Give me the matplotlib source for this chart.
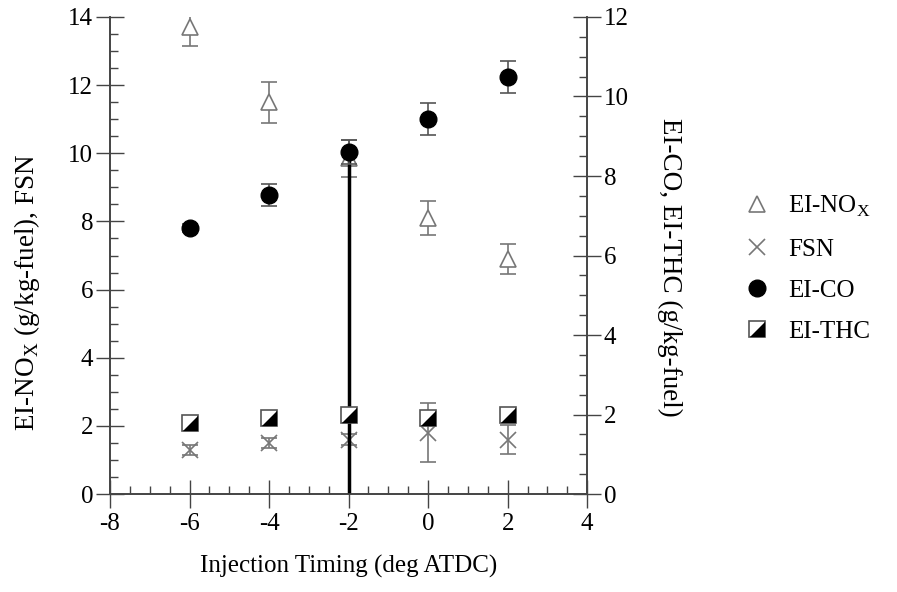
import numpy as np
import matplotlib
matplotlib.use("Agg")
import matplotlib.pyplot as plt
from matplotlib.ticker import MultipleLocator

plt.rcParams['font.family'] = ['Liberation Serif', 'DejaVu Serif']
plt.rcParams['mathtext.fontset'] = 'custom'
plt.rcParams['mathtext.rm'] = 'Liberation Serif'
plt.rcParams['font.size'] = 18
plt.rcParams['axes.unicode_minus'] = False

# injection timing (deg ATDC)
timing = [-6, -4, -2, 0, 2]

# left axis: EI-NOx and FSN
nox = [13.7, 11.5, 9.85, 8.1, 6.9]
nox_err = [0.55, 0.6, 0.55, 0.5, 0.45]
fsn = [1.3, 1.5, 1.6, 1.8, 1.6]
fsn_err = [0.15, 0.15, 0.15, 0.87, 0.44]

# right axis: EI-CO and EI-THC
co = [6.69, 7.52, 8.6, 9.43, 10.5]
co_err = [0.1, 0.27, 0.3, 0.4, 0.4]
thc = [1.79, 1.9, 1.99, 1.9, 1.99]
thc_err = [0.05, 0.05, 0.05, 0.05, 0.08]

gray = '#777777'
axcol = '#444444'

fig = plt.figure(figsize=(8.97, 5.92), dpi=100)
ax = fig.add_axes([0.1226, 0.1655, 0.532, 0.8058])
ax2 = ax.twinx()

h_nox = ax.errorbar(timing, nox, yerr=nox_err, fmt='^', ms=12, mfc='white', mec=gray,
                    mew=1.2, ecolor=gray, elinewidth=1.2, capsize=6, capthick=1.2, zorder=3)
h_fsn = ax.errorbar(timing, fsn, yerr=fsn_err, fmt='x', ms=12, mec=gray, mew=1.2,
                    ecolor=gray, elinewidth=1.2, capsize=6, capthick=1.2, zorder=3)

# thick vertical line at -2
ax2.vlines(timing[2], 0, co[2], color='black', lw=2.5, zorder=2)
h_co = ax2.errorbar(timing, co, yerr=co_err, fmt='o', ms=12, color='black',
                    ecolor='#555555', elinewidth=1.2, capsize=6, capthick=1.2, zorder=4)
ax2.errorbar(timing, thc, yerr=thc_err, fmt='none', ecolor=gray, elinewidth=1.2,
             capsize=6, capthick=1.2, zorder=3)
h_sq, = ax2.plot(timing, thc, 's', ms=12, mfc='white', mec='#555555', mew=1.2, zorder=4)
half = [(-1, -1), (1, -1), (1, 1), (-1, -1)]
h_tri, = ax2.plot(timing, thc, ls='none', marker=half, ms=11, mfc='black', mec='black',
                  mew=0, zorder=5)

ax.set_xlim(-8, 4)
ax.set_ylim(0, 14)
ax2.set_ylim(0, 12)
ax.xaxis.set_major_locator(MultipleLocator(2))
ax.xaxis.set_minor_locator(MultipleLocator(0.5))
ax.yaxis.set_major_locator(MultipleLocator(2))
ax.yaxis.set_minor_locator(MultipleLocator(0.5))
ax2.yaxis.set_major_locator(MultipleLocator(2))
ax2.yaxis.set_minor_locator(MultipleLocator(0.5))

for a in (ax, ax2):
    a.spines['top'].set_visible(False)
    for s in a.spines.values():
        s.set_color(axcol)
        s.set_linewidth(1.2)
    a.tick_params(which='major', direction='inout', length=20, width=1.0, color=axcol, pad=2)
    a.tick_params(which='minor', direction='in', length=6, width=1.0, color=axcol)
ax.tick_params(axis='x', pad=4)

ax.set_xlabel('Injection Timing (deg ATDC)', labelpad=14)
ax.set_ylabel('EI-NO$_\\mathrm{X}$ (g/kg-fuel), FSN', fontsize=19.5)
ax.yaxis.set_label_coords(-0.143, 0.423)
ax2.set_ylabel('EI-CO, EI-THC (g/kg-fuel)', rotation=270, fontsize=19.5)
ax2.yaxis.set_label_coords(1.2, 0.476)

fig.legend([h_nox[0], h_fsn[0], h_co[0], (h_sq, h_tri)],
           ['EI-NO$_\\mathrm{X}$', 'FSN', 'EI-CO', 'EI-THC'],
           loc='upper left', bbox_to_anchor=(0.798, 0.71), frameon=False,
           handletextpad=0.5, labelspacing=0.75, handlelength=1.5)

fig.savefig('out.png', dpi=100)
